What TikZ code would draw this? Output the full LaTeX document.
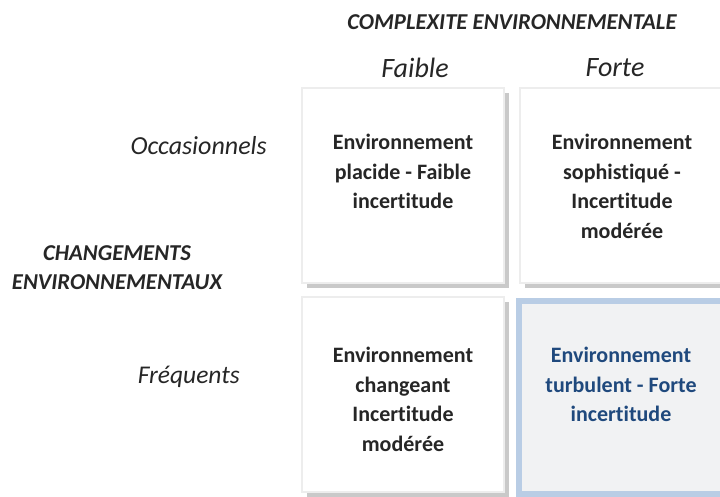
\documentclass[tikz,border=0pt]{standalone}
\usepackage{fontspec}
\setmainfont{Carlito}[Ligatures=NoCommon]
\usetikzlibrary{shadows}
\definecolor{shadowgrey}{HTML}{C9C9C9}
\definecolor{edgegrey}{HTML}{EDEDED}
\definecolor{hiblue}{HTML}{B9CDE5}
\definecolor{hifill}{HTML}{F1F2F3}
\definecolor{hitext}{HTML}{1F497D}
\definecolor{txt}{HTML}{262626}
\tikzset{
  cell/.style={draw=edgegrey, line width=2pt, fill=white, minimum width=202pt, minimum height=195pt,
    drop shadow={shadow xshift=5pt, shadow yshift=-5pt, fill=shadowgrey, opacity=1}},
  hicell/.style={draw=hiblue, line width=6pt, fill=hifill, minimum width=204pt, minimum height=193pt},
  celltext/.style={anchor=north, inner sep=0pt, align=center, text=txt,
    font=\fontsize{22}{29.5}\selectfont\bfseries},
  head/.style={text=txt, font=\fontsize{26}{30}\selectfont\itshape},
  axis/.style={text=txt, font=\fontsize{22.7}{29}\selectfont\bfseries\itshape, align=center},
}
\begin{document}
\begin{tikzpicture}[x=1pt,y=-1pt]
\useasboundingbox (0,0) rectangle (720,496);
\node[axis] (ttl) at (512,22) {COMPLEXITE ENVIRONNEMENTALE};
\node[head, font=\fontsize{28}{30}\selectfont\itshape] (faible) at (415,68) {Faible};
\node[head, font=\fontsize{28}{30}\selectfont\itshape] (forte) at (615,68) {Forte};
\node[head, anchor=east, inner sep=0pt] (occ) at (267,146) {Occasionnels};
\node[head, anchor=east, inner sep=0pt, font=\fontsize{25.5}{30}\selectfont\itshape] (freq) at (240,377) {Fréquents};
\node[axis] (chg) at (117,268) {CHANGEMENTS\\ENVIRONNEMENTAUX};
\node[cell] (c11) at (403,185.5) {};
\node[cell] (c12) at (621,185.5) {};
\node[cell] (c21) at (403,394.5) {};
\node[hicell] (c22) at (621,397) {};
\node[celltext] (t11) at (403,134) {Environnement\\placide - Faible\\incertitude};
\node[celltext] (t12) at (622,134) {Environnement\\sophistiqué -\\Incertitude\\modérée};
\node[celltext] (t21) at (403,347) {Environnement\\changeant\\Incertitude\\modérée};
\node[celltext, text=hitext] (t22) at (621,347) {Environnement\\turbulent - Forte\\incertitude};
\end{tikzpicture}
\end{document}
